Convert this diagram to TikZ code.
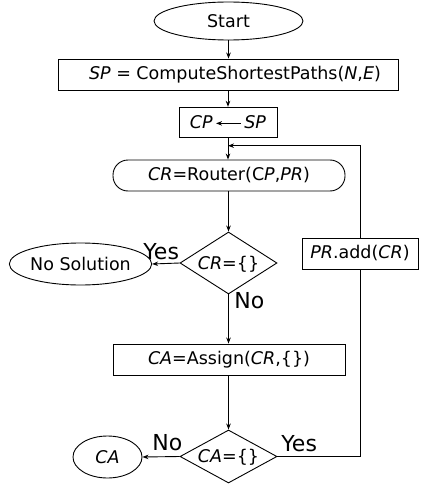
\documentclass[tikz,border=0pt]{standalone}
\usepackage{fontspec}
\setmainfont{DejaVu Sans}
\usetikzlibrary{shapes.geometric,arrows.meta}
\newcommand{\zb}[1]{\makebox[0pt]{\raisebox{-.36em}[0pt][0pt]{#1}}}
\newcommand{\larr}{\tikz[baseline,x=1pt,y=1pt,line width=0.8pt]\draw[{Stealth[length=6pt,width=4.5pt]}-] (0,5) -- (25,5);}
\begin{document}
\begin{tikzpicture}[x=1pt,y=-1pt,
  font=\fontsize{17.5}{20}\selectfont,
  line width=0.9pt,
  >={Stealth[length=6pt,width=4.5pt]},
  every node/.style={inner sep=0pt},
  boxnode/.style={draw, rectangle},
  ovalnode/.style={draw, ellipse},
  decnode/.style={draw, diamond, minimum width=97pt},
  lbl/.style={font=\fontsize{22}{24}\selectfont, anchor=base west}]
\useasboundingbox (0,0) rectangle (424,492);
\node[ovalnode, minimum width=149pt, minimum height=38pt] (start) at (228.5,21) {Start};
\node[boxnode, minimum width=340pt, minimum height=31pt] (sp) at (228,74.5) {\hspace*{14pt}\textit{SP} = ComputeShortestPaths(\textit{N},\textit{E})};
\node[boxnode, minimum width=98pt, minimum height=30pt] (cp) at (228,122) {\textit{CP}\,\larr\,\textit{SP}};
\node[draw, rounded corners=15pt, minimum width=232pt, minimum height=31pt] (router) at (229,175.5) {\textit{CR}=Router(C\textit{P},\textit{PR})};
\node[decnode, minimum height=62pt] (d1) at (228.5,263) {\zb{\textit{CR}=\{\}}};
\node[ovalnode, minimum width=131pt, minimum height=42pt] (ns) at (80.5,264) {No Solution};
\node[boxnode, minimum width=116pt, minimum height=31pt] (pr) at (360,253.5) {\textit{PR}.add(\textit{CR})};
\node[boxnode, minimum width=232pt, minimum height=31pt] (assign) at (229,359.5) {\textit{CA}=Assign(\textit{CR},\{\})};
\node[decnode, minimum height=53pt] (d2) at (228.5,456.5) {\zb{\textit{CA}=\{\}}};
\node[ovalnode, minimum width=69pt, minimum height=42pt] (ca) at (107.5,457) {\textit{CA}};
\node[lbl] (yes1) at (143,259) {Yes};
\node[lbl] (no1) at (234,308) {No};
\node[lbl] (no2) at (152,450) {No};
\node[lbl] (yes2) at (281,451) {Yes};
\coordinate (join) at (228,145.7);
\draw[->] (start.south) -- (start.south |- sp.north);
\draw[->] (sp.south -| cp.north) -- (cp.north);
\draw[->] (cp.south) -- (cp.south |- router.north);
\draw[->] (router.south -| d1.north) -- (d1.north);
\draw[->] (d1.west) -- (ns.east);
\draw[->] (d1.south) -- (d1.south |- assign.north);
\draw[->] (assign.south -| d2.north) -- (d2.north);
\draw[->] (d2.west) -- (ca.east);
\draw (d2.east) -| (pr.south);
\draw[->] (pr.north) |- (join);
\end{tikzpicture}
\end{document}
